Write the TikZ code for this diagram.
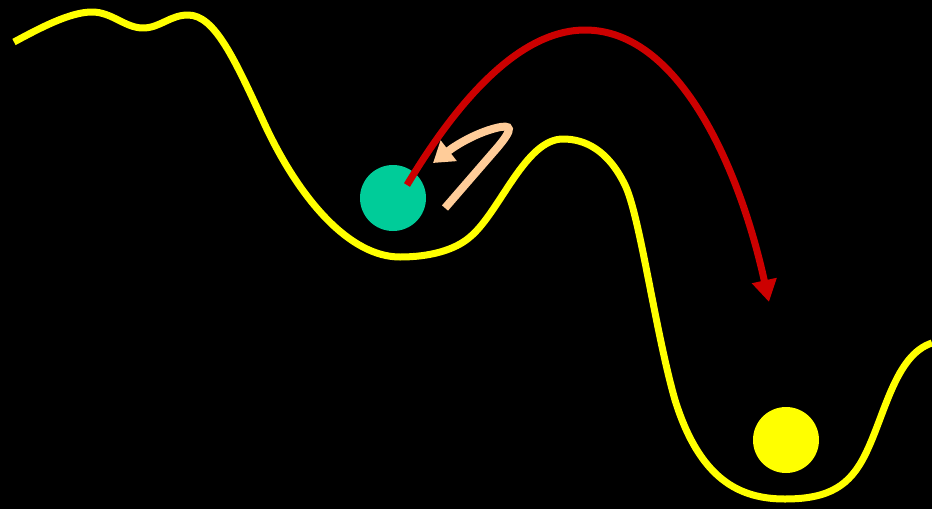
\documentclass[tikz,border=0pt]{standalone}
\usetikzlibrary{arrows.meta}
\definecolor{bahngelb}{HTML}{FFFF00}
\definecolor{kugelgruen}{HTML}{00CC99}
\definecolor{sprungrot}{HTML}{CC0000}
\definecolor{pfirsich}{HTML}{FFCC99}
\tikzset{bahn/.style={bahngelb,line width=7pt,line join=round},
  kugel/.style={circle,inner sep=0,minimum size=66pt},
  sprungpfeil/.style={sprungrot,line width=7pt,-{Triangle[length=22pt,width=24pt]}},
  rueckpfeil/.style={pfirsich,line width=8pt,-{Triangle[length=20pt,width=25pt]}}}

\begin{document}
\begin{tikzpicture}[x=1pt,y=-1pt]
\useasboundingbox (0,0) rectangle (932,509);
\fill[black] (0,0) rectangle (932,509);
% Bahn mit zwei Mulden
\draw[bahn] (14,42) .. controls (40,28) and (70,12) .. (92,12)
  .. controls (112,12) and (125,28) .. (143,28) .. controls (160,28) and (170,15) .. (188,15)
  .. controls (215,15) and (235,60) .. (265,125) .. controls (300,200) and (350,257) .. (400,257)
  .. controls (430,257) and (455,250) .. (470,237) .. controls (500,212) and (525,139) .. (563,139)
  .. controls (585,139) and (608,150) .. (625,185) .. controls (640,216) and (655,330) .. (675,400)
  .. controls (700,480) and (740,499) .. (785,499) .. controls (830,499) and (850,485) .. (865,455)
  .. controls (885,415) and (895,355) .. (932,343);
\node[kugel,fill=kugelgruen] (gruen) at (393,198) {};
\node[kugel,fill=bahngelb] (gelb) at (786,440) {};
\coordinate (absprung) at (407,185);
\coordinate (landung) at (769,302);
\draw[sprungpfeil] (absprung) .. controls (470,80) and (530,30) .. (585,30) .. controls (680,30) and (740,170) .. (landung);
\coordinate (anlauf) at (445,208);
\coordinate (umkehr) at (433,163);
\draw[rueckpfeil] (anlauf) -- (497,148) .. controls (514,128) and (512,124) .. (496,128) .. controls (476,133) and (456,145) .. (umkehr);
\end{tikzpicture}
\end{document}
